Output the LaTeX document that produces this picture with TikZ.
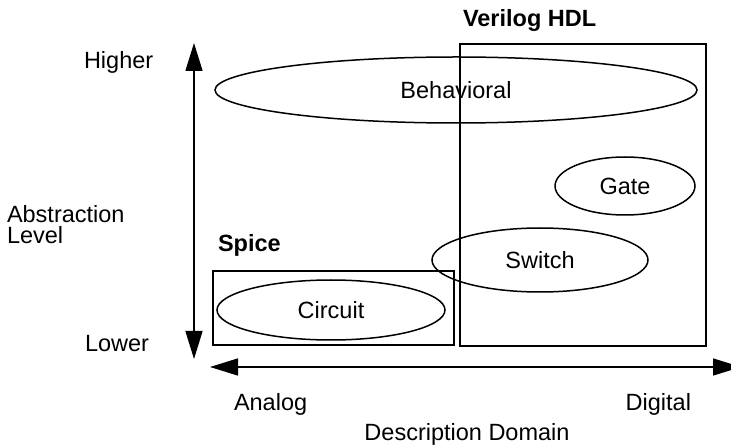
\documentclass[tikz,border=0pt]{standalone}
\usepackage{fontspec}
\setmainfont{Liberation Sans}
\usetikzlibrary{shapes.geometric,arrows.meta}
\begin{document}
\begin{tikzpicture}[x=1pt,y=-1pt,
  every node/.style={font=\fontsize{23.5}{26}\selectfont, inner sep=0pt, outer sep=0pt},
  lbl/.style={anchor=base west},
  lblr/.style={anchor=base east},
  twolines/.style={anchor=west, align=left, font=\fontsize{23.5}{21}\selectfont},
  boldlbl/.style={anchor=base west, font=\fontsize{23.5}{26}\selectfont\bfseries},
  oval/.style={draw, ellipse, line width=1.5pt},
  domainbox/.style={draw, rectangle, line width=1.5pt},
  axis/.style={line width=1.5pt, {Triangle[length=28pt,width=17pt]}-{Triangle[length=28pt,width=17pt]}}]
\useasboundingbox (0,0) rectangle (731,446);

% domain boxes
\node[domainbox, minimum width=246pt, minimum height=302pt] (verilog) at (583,195) {};
\node[domainbox, minimum width=241pt, minimum height=74pt] (spice) at (333.5,308) {};
\node[boldlbl] (verilogl) at (463,27) {Verilog HDL};
\node[boldlbl] (spicel) at (218,252) {Spice};

% abstraction ellipses
\node[oval, minimum width=482pt, minimum height=66pt] (beh) at (456,90) {Behavioral};
\node[oval, minimum width=140pt, minimum height=58pt] (gate) at (625,186) {Gate};
\node[oval, minimum width=216pt, minimum height=64pt] (switch) at (540,260) {Switch};
\node[oval, minimum width=228pt, minimum height=60pt] (circuit) at (331,310) {Circuit};

% axes
\coordinate (vtop) at (194,43);
\coordinate (vbot) at (194,359);
\coordinate (hleft) at (210,367);
\coordinate (hright) at (741,367);
\draw[axis] (vbot) -- (vtop);
\draw[axis] (hleft) -- (hright);

% axis labels
\node[lbl] (higher) at (84,69) {Higher};
\node[twolines] (abs) at (7,225) {Abstraction\\Level};
\node[lbl] (lower) at (85,352) {Lower};
\node[lbl] (analog) at (234,410) {Analog};
\node[lblr] (digital) at (691,410) {Digital};
\node[anchor=base] (dd) at (467,440) {Description Domain};
\end{tikzpicture}
\end{document}
